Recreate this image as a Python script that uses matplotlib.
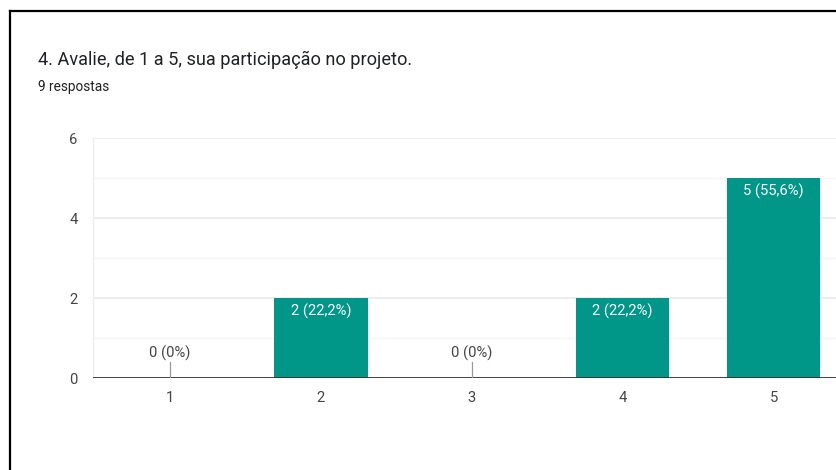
import matplotlib
matplotlib.use("Agg")
import matplotlib.pyplot as plt
from matplotlib.lines import Line2D

plt.rcParams['font.family'] = ['Roboto', 'DejaVu Sans']

categories = ["1", "2", "3", "4", "5"]
counts = [0, 2, 0, 2, 5]
labels = ["0 (0%)", "2 (22,2%)", "0 (0%)", "2 (22,2%)", "5 (55,6%)"]
title = "4. Avalie, de 1 a 5, sua participação no projeto."
subtitle = "9 respostas"

W, H = 837, 470
fig = plt.figure(figsize=(W / 100, H / 100), dpi=100)
fig.patch.set_facecolor("white")

# outer border (left and top)
fig.add_artist(Line2D([9.5 / W, 9.5 / W], [0, 1 - 11 / H], color="black", lw=1.6,
                      transform=fig.transFigure))
fig.add_artist(Line2D([9.5 / W, 1], [1 - 11 / H, 1 - 11 / H], color="black", lw=1.6,
                      transform=fig.transFigure))

fig.text(38 / W, 1 - 60 / H, title, fontsize=13.1, color="#202124", va="center", ha="left")
fig.text(38 / W, 1 - 87 / H, subtitle, fontsize=9.8, color="#202124", va="center", ha="left")

ax_left, ax_right = 93, 837
ax_top, ax_bottom = 138, 378
ax = fig.add_axes([ax_left / W, 1 - ax_bottom / H, (ax_right - ax_left) / W,
                   (ax_bottom - ax_top) / H])

x = list(range(1, len(categories) + 1))
ax.set_xlim(0.49, 5.42)
ax.set_ylim(0, 6)

# grid
for v in [1, 3, 5]:
    ax.axhline(v, color="#f4f4f4", lw=1.0, zorder=0)
for v in [2, 4, 6]:
    ax.axhline(v, color="#e8e8e8", lw=1.1, zorder=0)

ax.bar(x, counts, width=0.62, color="#009688", zorder=2)
ax.axhline(0, color="#333333", lw=1.3, zorder=3)

for xi, c, lab in zip(x, counts, labels):
    if c > 0:
        ax.annotate(lab, (xi, c), xytext=(0, -9.5), textcoords="offset points",
                    ha="center", va="center", color="white", fontsize=10.6, zorder=4)
    else:
        ax.plot([xi, xi], [0, 0.4], color="#999999", lw=0.9, zorder=3)
        ax.annotate(lab, (xi, 0), xytext=(0, 17.5), textcoords="offset points",
                    ha="center", va="center", color="#444444", fontsize=10.6, zorder=4)

ax.set_xticks(x)
ax.set_xticklabels(categories)
ax.set_yticks([0, 2, 4, 6])
ax.tick_params(axis="both", length=0, labelsize=10.6, colors="#444444")
ax.tick_params(axis="y", pad=11)
ax.tick_params(axis="x", pad=9)
for s in ["top", "right", "bottom"]:
    ax.spines[s].set_visible(False)
ax.spines["left"].set_color("#eeeeee")
ax.spines["left"].set_linewidth(1.0)
ax.set_facecolor("white")

fig.savefig("out.png", dpi=100, facecolor="white")
